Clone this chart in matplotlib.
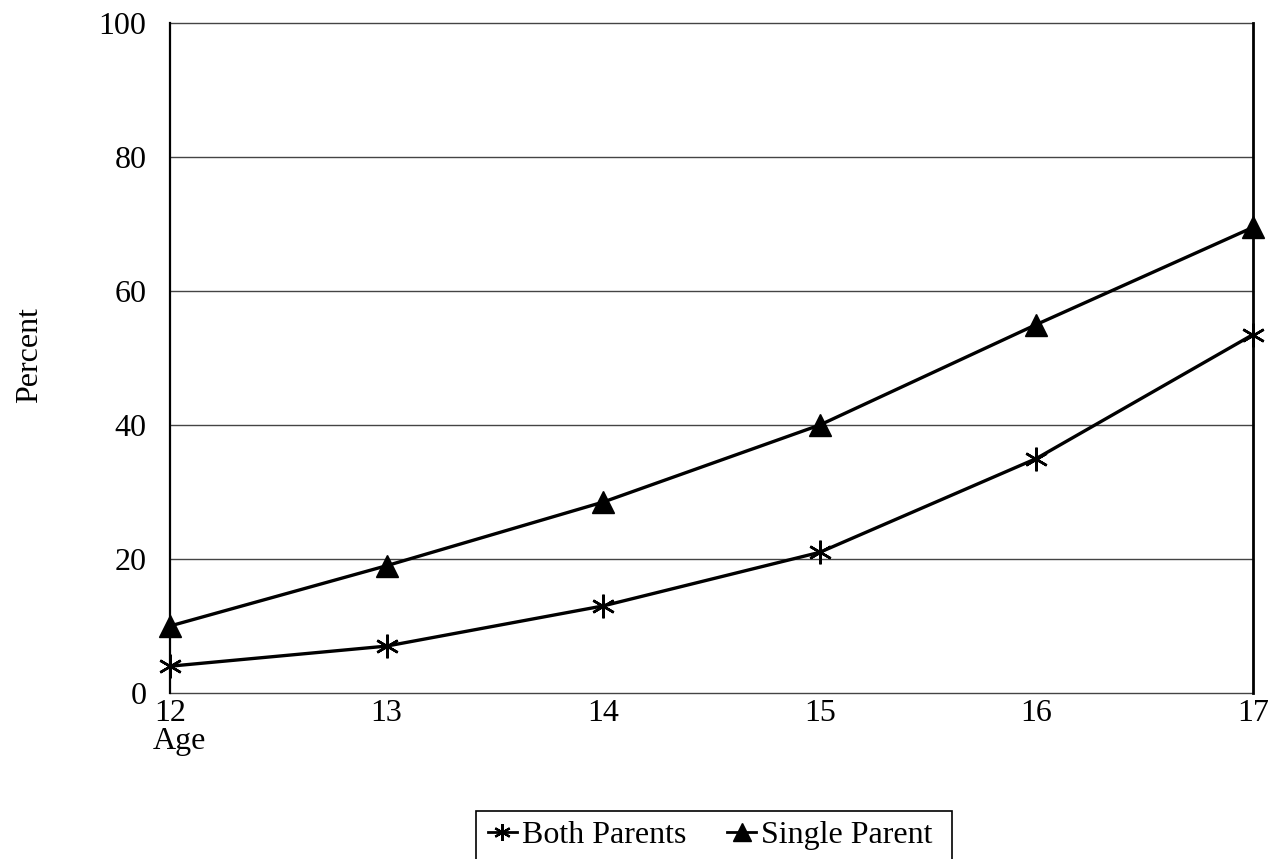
import matplotlib
matplotlib.use("Agg")
import matplotlib.pyplot as plt
from matplotlib.patches import Rectangle
from matplotlib.lines import Line2D

ages = [12, 13, 14, 15, 16, 17]
both_parents = [4, 7, 13, 21, 35, 53.5]
single_parent = [10, 19, 28.5, 40, 55, 69.5]
y_ticks = [0, 20, 40, 60, 80, 100]

plt.rcParams['font.family'] = ['Liberation Serif', 'DejaVu Serif']
FS = 23

fig = plt.figure(figsize=(12.7, 8.59), dpi=100)
ax = fig.add_axes([170/1270, 1 - 693/859, (1253-170)/1270, (693-23)/859])

star = (6, 2, 0)
ax.plot(ages, both_parents, color='black', lw=2.4, marker=star, ms=17, mew=1.8, clip_on=False, zorder=3)
ax.plot(ages, single_parent, color='black', lw=2.4, marker='^', ms=16, clip_on=False, zorder=3)

ax.set_xlim(12, 17)
ax.set_ylim(0, 100)
ax.set_yticks(y_ticks)
ax.set_xticks(ages)
ax.tick_params(length=0, labelsize=FS)
ax.tick_params(axis='x', pad=4)
ax.tick_params(axis='y', pad=17)
for v in y_ticks:
    ax.axhline(v, color='#444444', lw=1.0, zorder=1, clip_on=False)

for side in ['top', 'bottom']:
    ax.spines[side].set_visible(False)
ax.spines['left'].set_linewidth(1.6)
ax.spines['right'].set_linewidth(2.0)

fig.text(30/1270, 1 - 355/859, 'Percent', rotation=90, ha='center', va='center', fontsize=FS)
fig.text(179/1270, 1 - 742/859, 'Age', ha='center', va='center', fontsize=FS)

# legend box (open at the bottom edge of the figure)
fig.patches.append(Rectangle((476/1270, 1 - 880/859), (952-476)/1270, (880-811)/859,
                             transform=fig.transFigure, fill=False, edgecolor='black', lw=1.2))
handles = [Line2D([], [], color='black', lw=2, marker=star, ms=12, mew=1.6),
           Line2D([], [], color='black', lw=2, marker='^', ms=13)]
fig.legend(handles, ['Both Parents', 'Single Parent'], loc='center left',
           bbox_to_anchor=(488/1270, 1 - 835/859), ncol=2, frameon=False,
           fontsize=FS, handlelength=0.9, handletextpad=0.15, columnspacing=1.3,
           borderpad=0, borderaxespad=0)

fig.savefig('out.png', dpi=100)
